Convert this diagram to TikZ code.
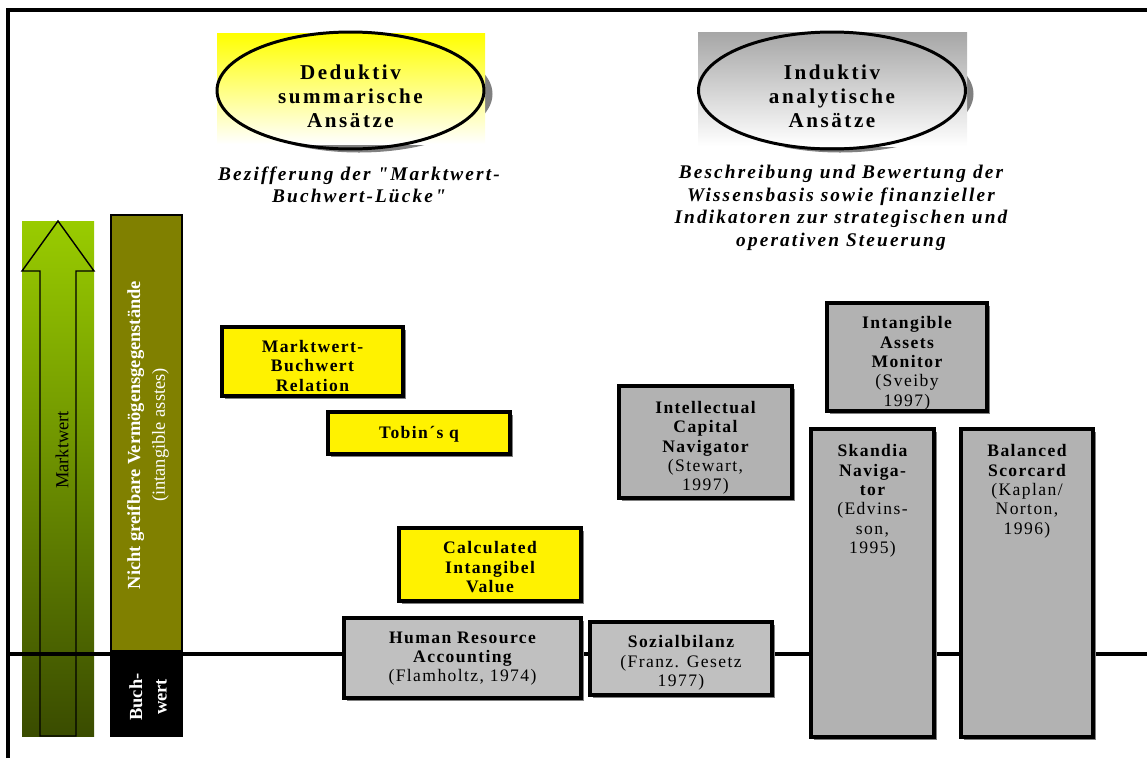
\documentclass[tikz,border=0pt]{standalone}
\usepackage{fontspec}
\setmainfont{Liberation Serif}
\newfontfamily\sperrfont[LetterSpace=8]{Liberation Serif}
\newfontfamily\titelfont[LetterSpace=12]{Liberation Serif}
\newfontfamily\beschrfont[LetterSpace=11]{Liberation Serif}
\usetikzlibrary{positioning, shapes.geometric, shadows}

\definecolor{hellgruen}{RGB}{153,204,0}
\definecolor{mittelgruen}{RGB}{104,142,0}
\definecolor{dunkelgruen}{RGB}{58,76,0}
\definecolor{oliv}{RGB}{128,128,0}
\definecolor{kastengrau}{RGB}{178,178,178}
\definecolor{hellgrau}{RGB}{192,192,192}
\definecolor{schatten}{RGB}{128,128,128}
\definecolor{ellipsengrau}{RGB}{166,166,166}

\begin{document}
\begin{tikzpicture}[
    x=0.02cm, y=-0.02cm,                 % 1 Einheit = 1 Bildpunkt, y nach unten
    % Kästen mit Schatten
    kasten/.style={draw, line width=1.8pt, inner sep=0pt,
        drop shadow={shadow xshift=0.06cm, shadow yshift=-0.06cm, fill=schatten, opacity=1}},
    gelbkasten/.style={kasten, fill=yellow},
    graukasten/.style={kasten, fill=kastengrau},
    hellkasten/.style={kasten, fill=hellgrau},
    % Text oben im Kasten
    kastentext/.style={align=center, inner sep=0pt, font=\sperrfont\bfseries\fontsize{10}{11}\selectfont},
    % Ellipsen oben
    ansatz/.style={ellipse, draw, line width=1.7pt, inner sep=0pt,
        minimum width=5.34cm, minimum height=2.34cm},
    ansatztext/.style={align=center, inner sep=0pt,
        font=\titelfont\bfseries\fontsize{12}{13.6}\selectfont},
    beschreibung/.style={align=center, inner sep=0pt,
        font=\beschrfont\bfseries\itshape\fontsize{11}{12.8}\selectfont},
    % Balken links
    balkentext/.style={rotate=90, align=center, inner sep=0pt, text=white,
        font=\fontsize{10.5}{14}\selectfont},
    achse/.style={line width=2.3pt}
]

\useasboundingbox (0,0) rectangle (1147,758);

% Rahmen
\draw[line width=2pt] (8,758) -- (8,10) -- (1147,10);

% Ellipse Deduktiv
\fill[schatten] (359,94) ellipse [x radius=133.5, y radius=58.5];
\shade[top color=yellow, bottom color=white] (217,33) rectangle (485,144);
\node[ansatz] (deduktiv) at (350.5,90.5) {};
\node[ansatztext] (deduktiv text) at ([yshift=-0.12cm]deduktiv.center) {Deduktiv\\summarische\\Ansätze};
\node[beschreibung] (bezifferung) at (359,185) {Bezifferung der "Marktwert-\\Buchwert-Lücke"};

% Ellipse Induktiv
\fill[schatten] (840,94) ellipse [x radius=133.5, y radius=58.5];
\shade[top color=ellipsengrau, bottom color=white] (698,32) rectangle (967,146);
\node[ansatz] (induktiv) at (832,90.5) {};
\node[ansatztext] (induktiv text) at ([yshift=-0.12cm]induktiv.center) {Induktiv\\analytische\\Ansätze};
\node[beschreibung] (bewertung) at (841,208) {Beschreibung und Bewertung der\\Wissensbasis sowie finanzieller\\Indikatoren zur strategischen und\\operativen Steuerung};

% Marktwert-Pfeil
\shade[top color=hellgruen, middle color=mittelgruen, bottom color=dunkelgruen] (22,221) rectangle (94,736);
\draw[line width=0.8pt] (40,736) -- (40,271) -- (22,271) -- (58,221) -- (94,271) -- (76,271) -- (76,736) -- cycle;
\node[rotate=90, inner sep=0pt, font=\fontsize{10.5}{12}\selectfont] (marktwert) at (62,450) {Marktwert};

% Balken rechts daneben
\node[draw, line width=0.8pt, fill=oliv, minimum width=1.42cm, minimum height=8.72cm] (immateriell) at (146.5,433) {};
\node[draw, line width=0.8pt, fill=black, minimum width=1.42cm, minimum height=1.7cm] (buchwert) at (146.5,693.5) {};
\node[balkentext] (immateriell text) at (148,435) {\bfseries Nicht greifbare Vermögensgegenstände\\(intangible asstes)};
\node[balkentext, font=\bfseries\fontsize{10.5}{14}\selectfont] (buchwert text) at (148,697) {Buch-\\wert};

% Achse
\coordinate (achse links) at (8,654);
\coordinate (achse rechts) at (1147,654);
\draw[achse] (achse links) -- (achse rechts);

% Deduktive Verfahren
\node[gelbkasten, minimum width=3.62cm, minimum height=1.38cm] (relation) at (312.5,361.5) {};
\node[gelbkasten, minimum width=3.64cm, minimum height=0.84cm] (tobin) at (419,433) {};
\node[gelbkasten, minimum width=3.64cm, minimum height=1.46cm] (civ) at (490,564.5) {};

% Induktive Verfahren
\node[hellkasten, minimum width=4.74cm, minimum height=1.6cm] (hra) at (462.5,658) {};
\node[hellkasten, minimum width=3.64cm, minimum height=1.46cm] (sozialbilanz) at (681,658.5) {};
\node[graukasten, minimum width=3.46cm, minimum height=2.24cm] (navigator) at (705.5,442) {};
\node[graukasten, minimum width=3.2cm, minimum height=2.16cm] (monitor) at (907,357) {};
\node[graukasten, minimum width=2.46cm, minimum height=6.16cm] (skandia) at (872.5,583) {};
\node[graukasten, minimum width=2.64cm, minimum height=6.16cm] (scorecard) at (1027,583) {};

% Beschriftungen der Kästen
\node[kastentext, below=0.29cm of relation.north] (relation text) {Marktwert-\\Buchwert\\Relation};
\node[kastentext, below=0.32cm of tobin.north] (tobin text) {Tobin´s q};
\node[kastentext, below=0.3cm of civ.north] (civ text) {Calculated\\Intangibel\\Value};
\node[kastentext, below=0.3cm of hra.north] (hra text) {Human Resource\\Accounting\\{\mdseries (Flamholtz, 1974)}};
\node[kastentext, below=0.3cm of sozialbilanz.north] (sozialbilanz text) {Sozialbilanz\\{\mdseries (Franz. Gesetz}\\{\mdseries 1977)}};
\node[kastentext, below=0.33cm of navigator.north] (navigator text) {Intellectual\\Capital\\Navigator\\{\mdseries (Stewart,}\\{\mdseries 1997)}};
\node[kastentext, below=0.3cm of monitor.north] (monitor text) {Intangible\\Assets\\Monitor\\{\mdseries (Sveiby}\\{\mdseries 1997)}};
\node[kastentext, below=0.34cm of skandia.north] (skandia text) {Skandia\\Naviga-\\tor\\{\mdseries (Edvins-}\\{\mdseries son,}\\{\mdseries 1995)}};
\node[kastentext, below=0.34cm of scorecard.north] (scorecard text) {Balanced\\Scorcard\\{\mdseries (Kaplan/}\\{\mdseries Norton,}\\{\mdseries 1996)}};

\end{tikzpicture}
\end{document}
